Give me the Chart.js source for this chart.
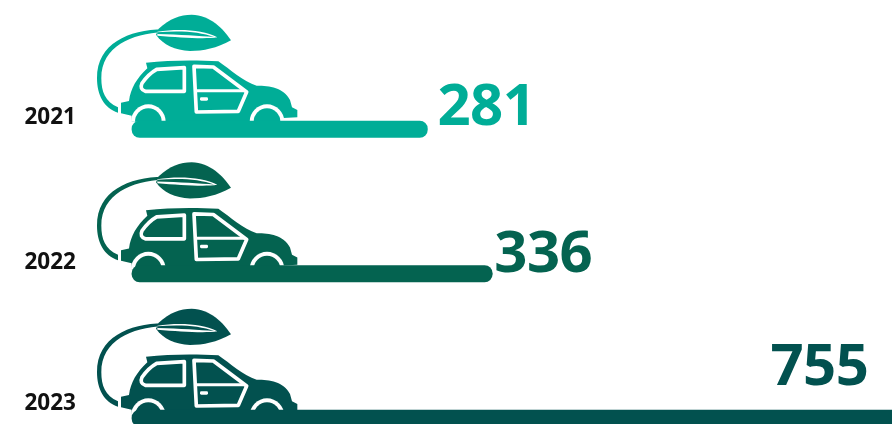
<!DOCTYPE html>
<html><head><meta charset="utf-8">
<style>html,body{margin:0;padding:0;background:#fff;overflow:hidden;width:892px;height:424px}canvas{display:block}</style>
<script src="https://cdn.jsdelivr.net/npm/chart.js@4"></script></head>
<body><canvas id="c" width="1010" height="500" style="width:1010px;height:500px"></canvas>
<script>
const years = ['2021','2022','2023'];
const values = [281,336,755];
const colors = ['#00AD97','#046350','#02514F'];
const barBase = 30.5;
// label placement relative to the bar's end and centre
const valueDx = [10,2,-216];
const valueDy = [-4,-1.5,-33];
const yearDy = [-11.5,-11,-14.5];
const iconDy = [0,3,5];

function carIcon(ctx,color){
  ctx.save();
  ctx.scale(1/3,1/3);
  ctx.fillStyle=color;ctx.strokeStyle=color;ctx.lineCap='butt';ctx.lineJoin='round';
  // stem
  ctx.beginPath();
  ctx.moveTo(354,322);
  ctx.bezierCurveTo(315,305,304,275,304,235);
  ctx.bezierCurveTo(304,140,395,100,490,97);
  ctx.lineTo(490,88);
  ctx.bezierCurveTo(385,90,291,130,291,235);
  ctx.bezierCurveTo(291,285,312,325,354,338);
  ctx.closePath();
  ctx.fill();
  // leaf
  ctx.beginPath();
  ctx.moveTo(476,86);
  ctx.bezierCurveTo(510,55,540,44,575,44);
  ctx.bezierCurveTo(630,46,670,85,693,121);
  ctx.bezierCurveTo(650,145,610,153,570,153);
  ctx.bezierCurveTo(525,150,490,135,468,104);
  ctx.closePath();
  ctx.fill();
  // leaf slit
  ctx.fillStyle='#fff';
  ctx.beginPath();
  ctx.moveTo(472,95);
  ctx.bezierCurveTo(540,85,610,90,652,112);
  ctx.bezierCurveTo(610,118,540,112,472,107);
  ctx.closePath();
  ctx.fill();
  ctx.fillStyle=color;
  ctx.beginPath();
  ctx.moveTo(472,97);
  ctx.bezierCurveTo(540,91,600,95,642,111);
  ctx.bezierCurveTo(600,108,540,104,472,102);
  ctx.closePath();
  ctx.fill();
  // body
  ctx.beginPath();
  ctx.moveTo(363,308);
  ctx.lineTo(387,303);
  ctx.bezierCurveTo(392,265,410,235,442,205);
  ctx.lineTo(438,188);
  ctx.bezierCurveTo(510,180,590,180,655,184);
  ctx.bezierCurveTo(690,208,730,245,770,257);
  ctx.bezierCurveTo(810,257,850,262,870,300);
  ctx.lineTo(876,322);
  ctx.lineTo(892,330);
  ctx.lineTo(892,352);
  ctx.lineTo(850,354);
  ctx.lineTo(850,365);
  ctx.lineTo(395,365);
  ctx.lineTo(395,347);
  ctx.lineTo(363,340);
  ctx.closePath();
  ctx.fill();
  // white details
  ctx.strokeStyle='#fff';ctx.lineWidth=11;
  ctx.beginPath();
  ctx.moveTo(553,203);ctx.lineTo(553,274);ctx.lineTo(436,274);
  ctx.quadraticCurveTo(418,268,426,250);
  ctx.quadraticCurveTo(445,222,470,208);
  ctx.closePath();
  ctx.stroke();
  ctx.beginPath();
  ctx.moveTo(582,199);ctx.lineTo(640,201);ctx.lineTo(740,276);ctx.lineTo(715,334);ctx.lineTo(589,336);
  ctx.closePath();
  ctx.stroke();
  ctx.lineWidth=9;
  ctx.beginPath();ctx.moveTo(586,272);ctx.lineTo(735,272);ctx.stroke();
  ctx.fillStyle='#fff';
  ctx.beginPath();ctx.roundRect(600,292,24,10,4);ctx.fill();
  // wheel arches with wheels
  for(const cx of [445,801]){
    ctx.beginPath();ctx.arc(cx,365,52,Math.PI,0);ctx.closePath();ctx.fillStyle='#fff';ctx.fill();
    ctx.beginPath();ctx.arc(cx,365,40,Math.PI,0);ctx.closePath();ctx.fillStyle=color;ctx.fill();
  }
  ctx.restore();
}

const decor = {
  id:'decor',
  beforeDatasetsDraw(chart){
    const ctx=chart.ctx, y=chart.scales.y;
    years.forEach((yr,i)=>{
      ctx.save();
      ctx.translate(0,y.getPixelForValue(i)-y.getPixelForValue(0)+iconDy[i]);
      carIcon(ctx,colors[i]);
      ctx.restore();
    });
  },
  afterDatasetsDraw(chart){
    const ctx=chart.ctx, x=chart.scales.x, y=chart.scales.y;
    ctx.save();
    ctx.textAlign='left';ctx.textBaseline='alphabetic';
    values.forEach((v,i)=>{
      const yc=y.getPixelForValue(i);
      ctx.font='700 58px "Open Sans"';
      ctx.letterSpacing='-0.5px';
      ctx.fillStyle=colors[i];
      ctx.fillText(String(v),x.getPixelForValue(v)+valueDx[i],yc+valueDy[i]);
      ctx.letterSpacing='0px';
      ctx.font='700 22.5px "Open Sans"';
      ctx.fillStyle='#111';
      ctx.textBaseline='middle';
      ctx.fillText(years[i],24.5,yc+yearDy[i]);
      ctx.textBaseline='alphabetic';
    });
    ctx.restore();
  }
};

new Chart(document.getElementById('c'),{
  type:'bar',
  data:{labels:years,datasets:[{data:values,base:barBase,backgroundColor:colors,barThickness:16.5,borderRadius:8,borderSkipped:false}]},
  options:{
    indexAxis:'y',responsive:false,animation:false,
    layout:{padding:{left:96,top:57,bottom:9.5,right:0}},
    plugins:{legend:{display:false},tooltip:{enabled:false}},
    scales:{
      x:{type:'linear',min:0,max:775,display:false},
      y:{type:'category',display:false}
    }
  },
  plugins:[decor]
});
</script></body></html>
